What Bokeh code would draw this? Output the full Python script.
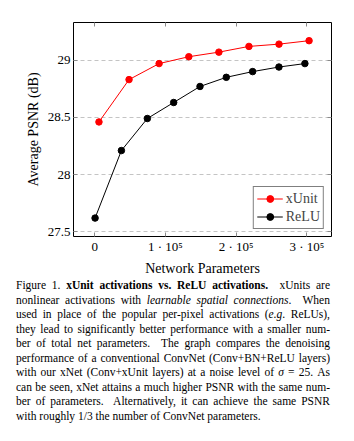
from bokeh.plotting import figure
from bokeh.models import FixedTicker, LinearAxis, Range1d, Div
from bokeh.layouts import column
from bokeh.embed import file_html
from bokeh.resources import INLINE

# Data
params_xunit = [6000, 48500, 91000, 133000, 175500, 218000, 260500, 303000]
psnr_xunit = [28.46, 28.83, 28.97, 29.03, 29.07, 29.12, 29.14, 29.17]
params_relu = [500, 37700, 74400, 111600, 148800, 186000, 223200, 260400, 297100]
psnr_relu = [27.62, 28.21, 28.49, 28.63, 28.77, 28.85, 28.90, 28.94, 28.97]

x_ticks = [0, 100000, 200000, 300000]
x_tick_labels = ["0", "1 · 10⁵", "2 · 10⁵", "3 · 10⁵"]
y_ticks = [27.5, 28.0, 28.5, 29.0]
y_tick_labels = ["27.5", "28", "28.5", "29"]

FONT = "Liberation Serif"
TICK_COLOR = "#8a8a8a"

p = figure(width=354, height=278, output_backend="svg", toolbar_location=None,
           x_range=Range1d(-30000, 334700), y_range=Range1d(27.459, 29.329),
           min_border_left=73, min_border_right=23, min_border_top=22, min_border_bottom=41)
p.background_fill_color = "white"
p.border_fill_color = "white"
p.outline_line_color = "black"
p.outline_line_width = 1

p.xgrid.grid_line_color = None
p.ygrid.ticker = FixedTicker(ticks=y_ticks)
p.ygrid.grid_line_color = "#c4c4c4"
p.ygrid.grid_line_dash = "4 3"
p.ygrid.grid_line_width = 1

def style_axis(ax, ticks, labels, show_labels=True):
    ax.ticker = FixedTicker(ticks=ticks)
    ax.axis_line_color = None
    ax.major_tick_in = 4
    ax.major_tick_out = 0
    ax.major_tick_line_color = TICK_COLOR
    ax.minor_tick_line_color = None
    ax.major_label_text_font = FONT
    if show_labels:
        ax.major_label_overrides = {t: l for t, l in zip(ticks, labels)}
        ax.major_label_text_font_size = "13px"
        ax.major_label_text_color = "black"
    else:
        ax.major_label_text_font_size = "0px"
        ax.major_label_text_color = None
        ax.major_label_standoff = 0

style_axis(p.xaxis[0], x_ticks, x_tick_labels)
style_axis(p.yaxis[0], y_ticks, y_tick_labels)
p.xaxis[0].major_label_standoff = 2
p.yaxis[0].major_label_standoff = 3

p.xaxis[0].axis_label = "Network Parameters"
p.yaxis[0].axis_label = "Average PSNR (dB)"
for ax in (p.xaxis[0], p.yaxis[0]):
    ax.axis_label_text_font = FONT
    ax.axis_label_text_font_size = "14px"
    ax.axis_label_text_font_style = "normal"
    ax.axis_label_text_color = "black"
p.xaxis[0].axis_label_standoff = 4
p.yaxis[0].axis_label_standoff = 4

top_axis = LinearAxis()
style_axis(top_axis, x_ticks, x_tick_labels, show_labels=False)
p.add_layout(top_axis, "above")
right_axis = LinearAxis()
style_axis(right_axis, y_ticks, y_tick_labels, show_labels=False)
p.add_layout(right_axis, "right")

p.line(params_relu, psnr_relu, line_color="black", line_width=1, legend_label="ReLU")
p.scatter(params_relu, psnr_relu, size=6.5, fill_color="black", line_color="black", legend_label="ReLU")
p.line(params_xunit, psnr_xunit, line_color="red", line_width=1, legend_label="xUnit")
p.scatter(params_xunit, psnr_xunit, size=6.5, fill_color="red", line_color="red", legend_label="xUnit")

leg = p.legend[0]
leg.items = [leg.items[1], leg.items[0]]
leg.location = "bottom_right"
leg.margin = 7
leg.border_line_color = "black"
leg.border_line_width = 1
leg.background_fill_color = "white"
leg.background_fill_alpha = 1
leg.label_text_font = FONT
leg.label_text_font_size = "14px"
leg.glyph_width = 26
leg.glyph_height = 17
leg.label_height = 17
leg.label_standoff = 3
leg.spacing = 1
leg.padding = 3

lines = [
    'Figure 1. <b>xUnit activations vs. ReLU activations.</b>&nbsp; xUnits are',
    'nonlinear activations with <i>learnable spatial connections</i>.&nbsp; When',
    'used in place of the popular per-pixel activations (<i>e.g</i>. ReLUs),',
    'they lead to significantly better performance with a smaller num-',
    'ber of total net parameters.&nbsp; The graph compares the denoising',
    'performance of a conventional ConvNet (Conv+BN+ReLU layers)',
    'with our xNet (Conv+xUnit layers) at a noise level of <i>σ</i> = 25. As',
    'can be seen, xNet attains a much higher PSNR with the same num-',
    'ber of parameters.&nbsp; Alternatively, it can achieve the same PSNR',
    'with roughly 1/3 the number of ConvNet parameters.',
]
html_lines = []
for i, ln in enumerate(lines):
    last = "left" if i == len(lines) - 1 else "justify"
    html_lines.append(
        f'<div style="text-align:justify;text-align-last:{last};">{ln}</div>')
caption_html = (
    f'<div style="font-family:\'{FONT}\';font-size:11.5px;line-height:14.55px;'
    f'color:black;width:314px;">' + "".join(html_lines) + '</div>')

caption = Div(text=caption_html, width=314, height=150, margin=(0, 0, 0, 16))

layout = column(p, caption, spacing=0)
open("out.html", "w").write(file_html(layout, INLINE))
